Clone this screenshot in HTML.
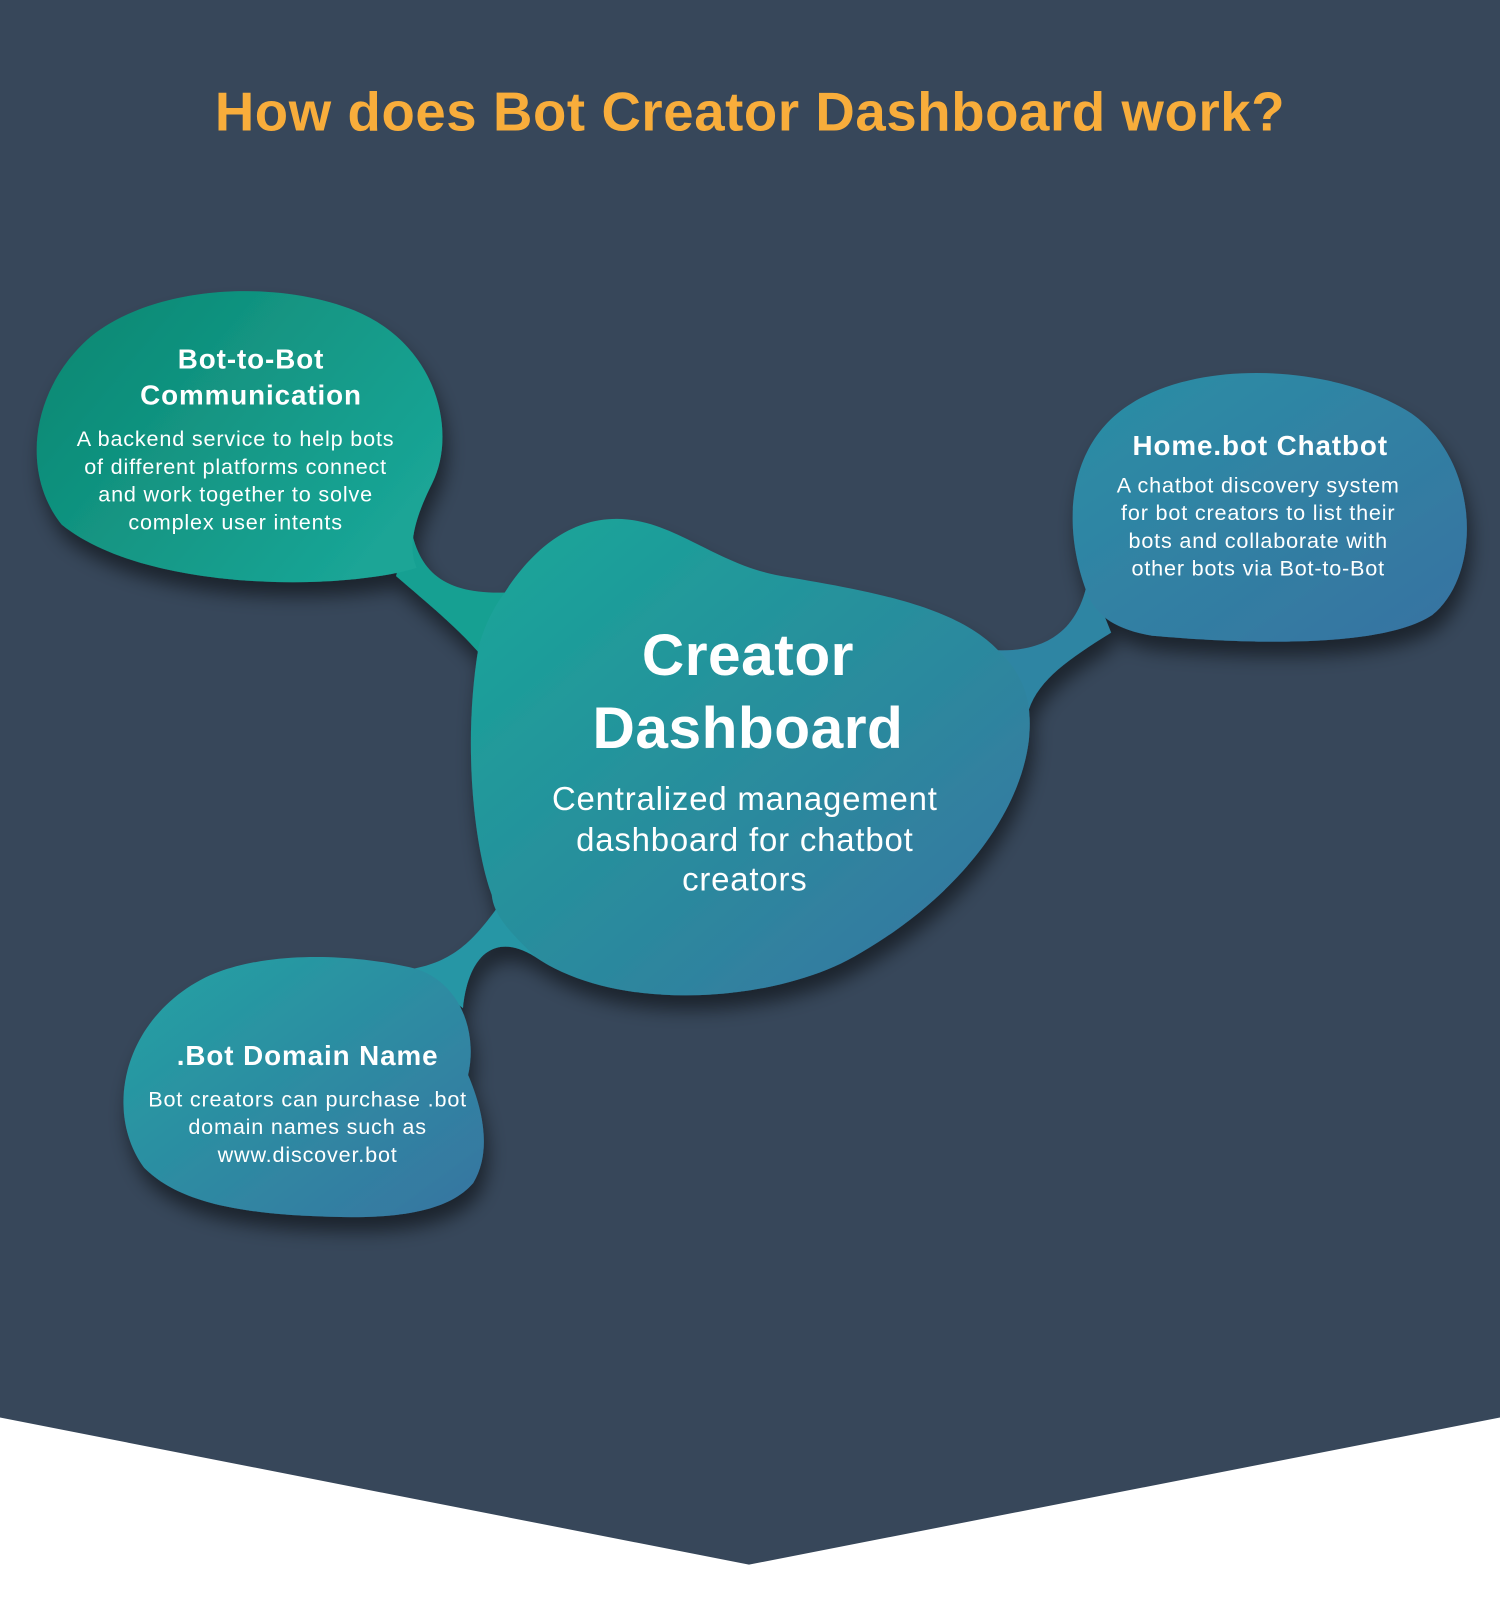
<!DOCTYPE html>
<html><head><meta charset="utf-8"><style>
html,body{margin:0;padding:0;background:#fff;}
svg{display:block}
text{font-family:"Liberation Sans",sans-serif;fill:#fff;text-anchor:middle;dominant-baseline:middle}
.h{font-weight:bold;font-size:27px;letter-spacing:0.9px}
.d{font-size:21px;letter-spacing:0.8px}
</style></head><body>
<svg width="1500" height="1613" viewBox="0 0 1458 1568" preserveAspectRatio="none">
<defs>
<linearGradient id="gc" x1="0" y1="0" x2="1" y2="1"><stop offset="0" stop-color="#17a898"/><stop offset="1" stop-color="#3a72a2"/></linearGradient>
<linearGradient id="gl" x1="0" y1="0" x2="1" y2="0.6"><stop offset="0" stop-color="#0b8670"/><stop offset="1" stop-color="#1aa596"/></linearGradient>
<linearGradient id="gr" x1="0" y1="0" x2="1" y2="1"><stop offset="0" stop-color="#2a8fa5"/><stop offset="1" stop-color="#3872a1"/></linearGradient>
<linearGradient id="gb" x1="0" y1="0" x2="1" y2="1"><stop offset="0" stop-color="#22a3a3"/><stop offset="1" stop-color="#3874a1"/></linearGradient>
<filter id="sh" x="-20%" y="-20%" width="140%" height="150%"><feDropShadow dx="4" dy="14" stdDeviation="9" flood-color="#000" flood-opacity="0.5"/></filter>
</defs>
<rect x="0" y="0" width="1458" height="1568" fill="#37475a"/>
<polygon points="0,1378 728,1521 1458,1378 1458,1568 0,1568" fill="#fff"/>
<text x="729" y="113" style="font-weight:bold;font-size:53px;letter-spacing:0.6px;fill:#f8ad3b">How does Bot Creator Dashboard work?</text>
<g filter="url(#sh)">
<path d="M398,505 C405,555 430,578 492,576 L470,640 C450,615 420,590 385,560 Z" fill="#18a092"/>
<path d="M1058,560 C1050,610 1020,635 965,632 L1000,690 C1010,660 1040,640 1080,615 Z" fill="#2f85a3"/>
<path d="M400,942 C440,935 460,915 485,880 L520,930 C480,905 455,930 450,980 Z" fill="#2696a5"/>
<path d="M490,577 C520,530 560,500 610,505 C660,510 700,550 760,560 C850,575 930,590 970,632 C1000,660 1003,690 1000,720 C990,800 920,880 830,930 C750,975 600,985 520,930 C495,905 480,890 478,870 C460,820 450,720 465,630 C470,610 480,590 490,577 Z" fill="url(#gc)"/>
<path d="M60,510 C20,460 30,380 85,330 C145,278 265,270 345,302 C425,335 445,420 420,470 C405,500 395,530 405,552 C330,575 140,575 60,510 Z" fill="url(#gl)"/>
<path d="M1058,580 C1030,510 1038,430 1100,392 C1170,348 1300,355 1372,402 C1440,450 1440,560 1392,598 C1340,632 1200,625 1120,618 C1085,612 1068,600 1058,580 Z" fill="url(#gr)"/>
<path d="M140,1135 C100,1080 120,990 200,950 C260,922 350,928 405,942 C445,955 465,1000 455,1045 C470,1080 478,1120 460,1150 C430,1185 360,1185 300,1182 C220,1178 170,1165 140,1135 Z" fill="url(#gb)"/>
</g>
<text class="h" x="244" y="351">Bot-to-Bot</text>
<text class="h" x="244" y="386">Communication</text>
<text class="d" x="229" y="428">A backend service to help bots</text>
<text class="d" x="229" y="455">of different platforms connect</text>
<text class="d" x="229" y="482">and work together to solve</text>
<text class="d" x="229" y="509">complex user intents</text>
<text class="h" x="1225" y="435">Home.bot Chatbot</text>
<text class="d" x="1223" y="473">A chatbot discovery system</text>
<text class="d" x="1223" y="500">for bot creators to list their</text>
<text class="d" x="1223" y="527">bots and collaborate with</text>
<text class="d" x="1223" y="554">other bots via Bot-to-Bot</text>
<text x="727" y="641" style="font-weight:bold;font-size:57px;letter-spacing:0.5px">Creator</text>
<text x="727" y="712" style="font-weight:bold;font-size:57px;letter-spacing:0.5px">Dashboard</text>
<text x="724" y="779" style="font-size:32px;letter-spacing:0.8px">Centralized management</text>
<text x="724" y="819" style="font-size:32px;letter-spacing:0.8px">dashboard for chatbot</text>
<text x="724" y="857" style="font-size:32px;letter-spacing:0.8px">creators</text>
<text class="h" x="299" y="1028">.Bot Domain Name</text>
<text class="d" x="299" y="1070">Bot creators can purchase .bot</text>
<text class="d" x="299" y="1097">domain names such as</text>
<text class="d" x="299" y="1124">www.discover.bot</text>
</svg>
</body></html>
